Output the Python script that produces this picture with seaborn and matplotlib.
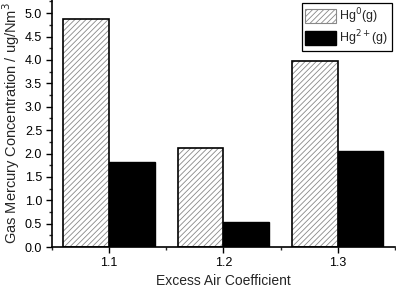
import matplotlib
matplotlib.use("Agg")
import matplotlib.pyplot as plt
from matplotlib.patches import Rectangle
from matplotlib.ticker import MultipleLocator, FixedLocator
import seaborn as sns
import pandas as pd

# Daten
koeffizienten = ["1.1", "1.2", "1.3"]
hg0 = [4.87, 2.12, 3.97]
hg2 = [1.81, 0.53, 2.06]
serien = ["Hg$^0$(g)", "Hg$^{2+}$(g)"]

df = pd.DataFrame({
    "koeff": koeffizienten * 2,
    "wert": hg0 + hg2,
    "serie": [serien[0]] * 3 + [serien[1]] * 3,
})

sns.set_theme(style="ticks")
plt.rcParams["font.family"] = ["Liberation Sans", "DejaVu Sans"]
plt.rcParams["hatch.linewidth"] = 0.6

fig = plt.figure(figsize=(3.96, 2.87), dpi=100)
ax = fig.add_axes([0.131, 0.139, 0.866, 0.861])

sns.barplot(data=df, x="koeff", y="wert", hue="serie", hue_order=serien,
            palette=["white", "black"], edgecolor="black", linewidth=1.0,
            width=0.8, gap=0, saturation=1, legend=False, ax=ax)

# Schraffur fuer Hg0: graue Linien, schwarzer Rahmen darueber
for p in ax.containers[0]:
    p.set_hatch("//////")
    p.set_edgecolor("#888888")
    p.set_linewidth(0)
    ax.add_patch(Rectangle(p.get_xy(), p.get_width(), p.get_height(),
                           fill=False, ec="black", lw=1.2, zorder=p.get_zorder() + 0.1))

h0 = Rectangle((0, 0), 1, 1, facecolor="white", edgecolor="#888888",
               hatch="//////", lw=0.8)
h2 = Rectangle((0, 0), 1, 1, facecolor="black", edgecolor="black")
ax.legend([h0, h2], serien, loc="upper right", fontsize=9, frameon=True,
          fancybox=False, edgecolor="black", framealpha=1,
          handlelength=2.5, handleheight=1.25, borderpad=0.25,
          labelspacing=0.2, handletextpad=0.25, borderaxespad=0.25)
ax.get_legend().get_frame().set_linewidth(0.9)

ax.set_xlim(-0.5, 2.5)
ax.set_ylim(0, 5.28)
ax.yaxis.set_major_locator(MultipleLocator(0.5))
ax.yaxis.set_minor_locator(MultipleLocator(0.25))
ax.xaxis.set_minor_locator(FixedLocator([-0.5, 0.5, 1.5, 2.5]))
ax.tick_params(axis="both", which="major", direction="out", length=4,
               width=1, labelsize=9, colors="black", pad=3)
ax.tick_params(axis="both", which="minor", direction="out", length=2.5, width=1)
ax.yaxis.set_major_formatter(matplotlib.ticker.FormatStrFormatter("%.1f"))

sns.despine(ax=ax)
for s in ["left", "bottom"]:
    ax.spines[s].set_color("black")
    ax.spines[s].set_linewidth(1.2)

ax.set_xlabel("Excess Air Coefficient", fontsize=10, labelpad=4)
ax.set_ylabel("Gas Mercury Concentration / ug/Nm$^3$", fontsize=10.5, labelpad=2)

fig.savefig("out.png", dpi=100)
